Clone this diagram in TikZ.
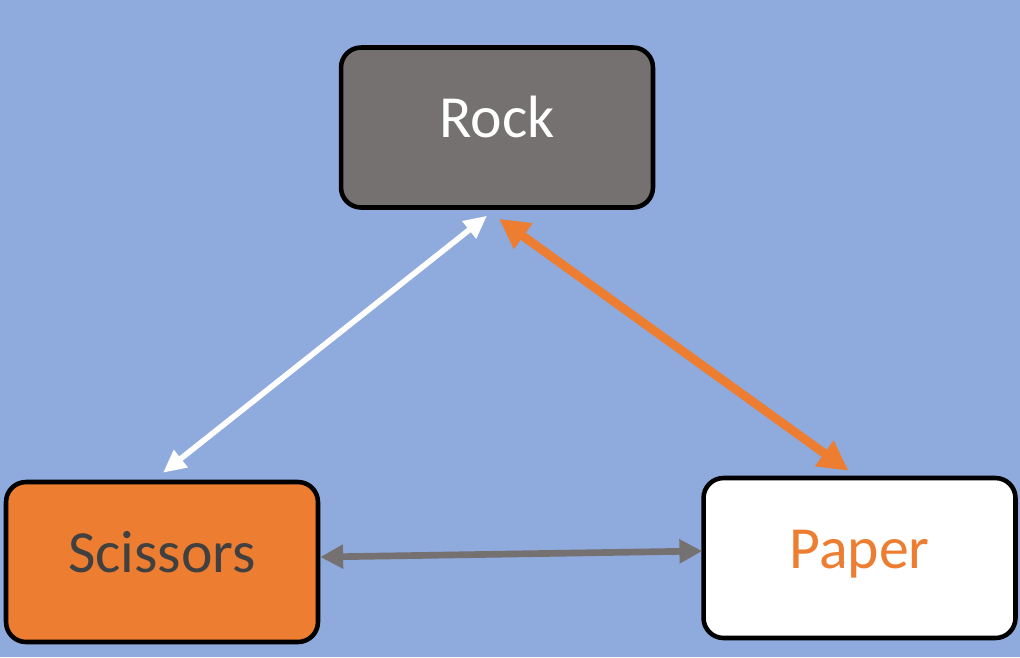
\documentclass[tikz,border=0pt]{standalone}
\usepackage{fontspec}
\setmainfont{Carlito}
\usetikzlibrary{arrows.meta,calc}

\definecolor{bgblue}{HTML}{8FAADC}
\definecolor{rockgray}{HTML}{767171}
\definecolor{scorange}{HTML}{ED7D31}
\definecolor{textgray}{HTML}{404040}

\tikzset{
	box/.style={draw=black, line width=2.6pt, rounded corners=0.4cm,
		minimum width=6.24cm, minimum height=3.2cm,
		text height=0.82cm, text depth=0.42cm,
		font=\fontsize{34}{40}\selectfont},
	whitearrow/.style={draw=white, line width=3.2pt,
		{Triangle[length=13pt,width=12pt]}-{Triangle[length=13pt,width=12pt]}},
	orangearrow/.style={draw=scorange, line width=5pt,
		{Triangle[length=17pt,width=17pt]}-{Triangle[length=17pt,width=17pt]}},
	grayarrow/.style={draw=rockgray, line width=3.8pt,
		{Triangle[length=13pt,width=13pt]}-{Triangle[length=13pt,width=13pt]}}
}

\begin{document}
\begin{tikzpicture}[x=0.02cm, y=-0.02cm]

\fill[bgblue] (0,0) rectangle (1020,657);
\useasboundingbox (0,0) rectangle (1020,657);

\node[box, fill=rockgray, text=white] (rock) at (497,127.5) {Rock};
\node[box, fill=scorange, text=textgray] (scissors) at (162,562) {Scissors};
\node[box, fill=white, text=scorange] (paper) at (859.5,558) {Paper};

% beats / beaten by
\draw[whitearrow] ($(rock.south)+(-10,6)$) -- ($(scissors.north)+(1,-7)$);
\draw[orangearrow] ($(rock.south)+(2,9)$) -- ($(paper.north)+(-11,-5)$);
\draw[grayarrow] ($(scissors.east)+(0,-5)$) -- ($(paper.west)+(1,-7)$);

\end{tikzpicture}
\end{document}
